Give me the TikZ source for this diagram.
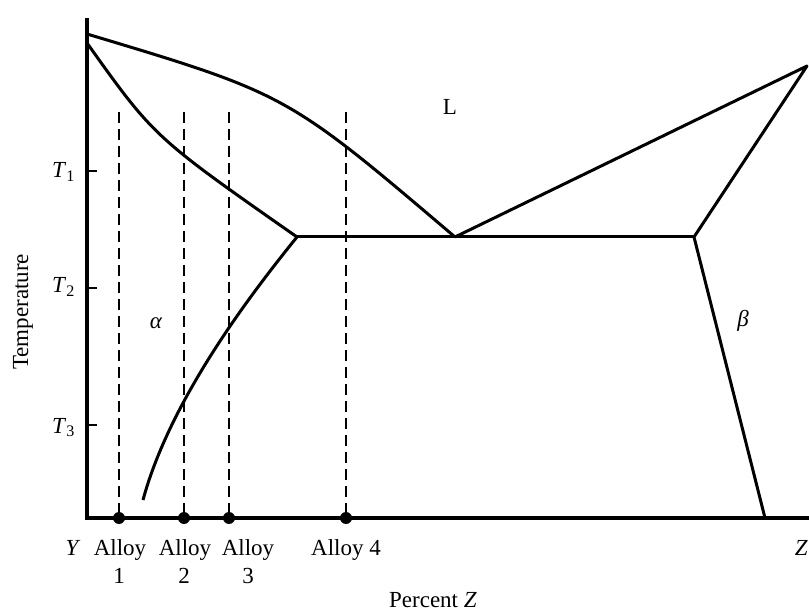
\documentclass[tikz,border=0pt]{standalone}
\usepackage{fontspec}
\setmainfont{Liberation Serif}
\begin{document}
\begin{tikzpicture}[x=1pt,y=-1pt,
  phase/.style={line width=3pt, line join=round},
  axis/.style={line width=3.2pt},
  tick/.style={line width=2.6pt},
  alloyline/.style={line width=2.4pt, dash pattern=on 11pt off 6pt},
  lbl/.style={font=\fontsize{23}{26}\selectfont, inner sep=0pt},
  dotmark/.style={circle, fill=black, minimum size=12pt, inner sep=0pt}]
\useasboundingbox (0,0) rectangle (809,612);
\clip (0,0) rectangle (809,612);

% key points
\coordinate (ytop) at (87,18);
\coordinate (origin) at (87,518);
\coordinate (xend) at (815,518);
\coordinate (Ymelt) at (87,34);
\coordinate (Ysol) at (87,43);
\coordinate (eut) at (455,237);
\coordinate (alphaE) at (297,237);
\coordinate (betaE) at (694,237);
\coordinate (Zmelt) at (807,66);
\coordinate (alphaB) at (143,500);
\coordinate (betaB) at (765,518);

% axes
\draw[axis] (ytop) -- (origin) -- (xend);
\coordinate (k1) at (87,171); \coordinate (k1e) at (97,171);
\coordinate (k2) at (87,288); \coordinate (k2e) at (97,288);
\coordinate (k3) at (87,425); \coordinate (k3e) at (97,425);
\draw[tick] (k1) -- (k1e);
\draw[tick] (k2) -- (k2e);
\draw[tick] (k3) -- (k3e);

% phase boundaries
\draw[phase] (Ymelt) .. controls (287,94) .. (eut);
\draw[phase] (Ysol) .. controls (154,137) .. (alphaE);
\draw[phase] (alphaE) -- (betaE);
\draw[phase] (eut) -- (Zmelt) -- (betaE) -- (betaB);
\draw[phase] (alphaE) .. controls (250,295) and (170,400) .. (alphaB);

% alloy lines
\coordinate (t1) at (119,112);
\coordinate (t2) at (184,112);
\coordinate (t3) at (229,112);
\coordinate (t4) at (346,112);
\node[dotmark] (a1) at (119,518) {};
\node[dotmark] (a2) at (184,518) {};
\node[dotmark] (a3) at (229,518) {};
\node[dotmark] (a4) at (346,518) {};
\draw[alloyline] (t1) -- (a1.center);
\draw[alloyline] (t2) -- (a2.center);
\draw[alloyline] (t3) -- (a3.center);
\draw[alloyline] (t4) -- (a4.center);

% labels
\node[lbl, anchor=base east] (T1) at (75,178) {\textit{T}\textsubscript{1}};
\node[lbl, anchor=base east] (T2) at (75,293) {\textit{T}\textsubscript{2}};
\node[lbl, anchor=base east] (T3) at (75,433) {\textit{T}\textsubscript{3}};
\node[lbl, rotate=90] (temp) at (23,312) {Temperature};
\node[lbl, anchor=base] (L) at (450,115) {L};
\node[lbl] (alpha) at (156,323) {\textit{α}};
\node[lbl] (beta) at (743,321) {\textit{β}};
\node[lbl, anchor=base] (Y) at (73,555) {\textit{Y}};
\node[lbl, anchor=base] (al1) at (120,555) {Alloy};
\node[lbl, anchor=base] (n1) at (119,583) {1};
\node[lbl, anchor=base] (al2) at (185,555) {Alloy};
\node[lbl, anchor=base] (n2) at (184,583) {2};
\node[lbl, anchor=base] (al3) at (248,555) {Alloy};
\node[lbl, anchor=base] (n3) at (248,583) {3};
\node[lbl, anchor=base] (al4) at (346,555) {Alloy 4};
\node[lbl, anchor=base east] (Z) at (808,555) {\textit{Z}};
\node[lbl, anchor=base] (pz) at (433,607) {Percent \textit{Z}};
\end{tikzpicture}
\end{document}
